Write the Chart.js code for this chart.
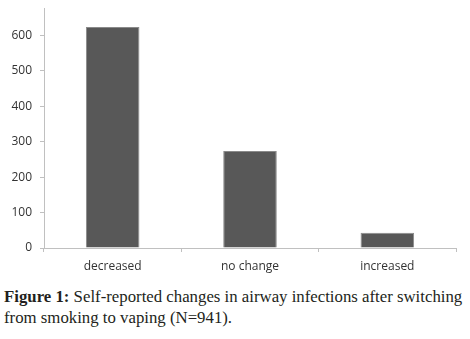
<!DOCTYPE html>
<html>
<head>
<meta charset="utf-8">
<script src="https://cdn.jsdelivr.net/npm/chart.js@4.4.1/dist/chart.umd.min.js"></script>
<style>
  html, body { margin: 0; padding: 0; background: #fff; }
  #wrap { position: relative; width: 470px; height: 339px; overflow: hidden; }
  #box { position: absolute; left: 0; top: -7px; width: 470px; height: 287px; }
  #caption {
    position: absolute; left: 4px; top: 286px; width: 466px;
    font-family: "Liberation Serif", "DejaVu Serif", serif;
    font-size: 16.8px; line-height: 21px; color: #231f20;
    white-space: nowrap;
  }
  #caption b { font-weight: bold; }
</style>
</head>
<body>
<div id="wrap">
  <div id="box"><canvas id="chart"></canvas></div>
  <div id="caption"><b>Figure 1:</b> Self-reported changes in airway infections after switching<br>from smoking to vaping (N=941).</div>
</div>
<script>
// Data
const categories = ["decreased", "no change", "increased"];
const counts = [624, 274, 43];
const yTicks = [0, 100, 200, 300, 400, 500, 600];

const axisGrey = "#c0c0c0";

const chart = new Chart(document.getElementById("chart"), {
    type: 'bar',
    data: {
        labels: categories,
        datasets: [{
            data: counts,
            backgroundColor: "#585858",
            borderColor: "#8a8a8a",
            borderWidth: 1,
            barPercentage: 0.39,
            categoryPercentage: 1.0
        }]
    },
    options: {
        responsive: true,
        maintainAspectRatio: false,
        animation: false,
        layout: { padding: { top: 0, right: 14, left: 0, bottom: 0 } },
        plugins: {
            legend: { display: false },
            tooltip: { enabled: false }
        },
        scales: {
            x: {
                offset: true,
                grid: { offset: true, drawOnChartArea: false, drawTicks: true, tickLength: 4, color: axisGrey },
                border: { display: true, color: axisGrey, width: 1 },
                ticks: {
                    color: "#333",
                    padding: 7,
                    font: { family: "'Open Sans', 'Noto Sans', sans-serif", size: 12 }
                },
                afterFit: (s) => { s.height = 32; }
            },
            y: {
                min: 0,
                max: 677,
                afterBuildTicks: (s) => { s.ticks = yTicks.map(v => ({ value: v })); },
                grid: { drawOnChartArea: false, drawTicks: true, tickLength: 4, color: axisGrey },
                border: { display: true, color: axisGrey, width: 1 },
                ticks: {
                    color: "#333",
                    padding: 8,
                    font: { family: "'Open Sans', 'Noto Sans', sans-serif", size: 12 }
                },
                afterFit: (s) => { s.width = 44; }
            }
        }
    }
});
</script>
</body>
</html>
